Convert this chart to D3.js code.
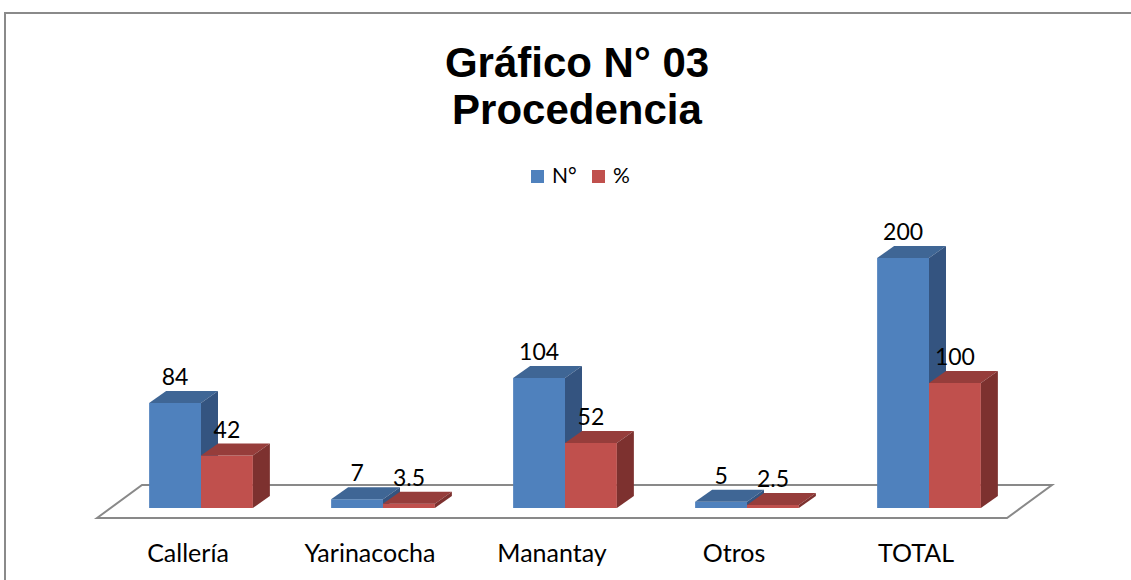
<!DOCTYPE html>
<html>
<head>
<meta charset="utf-8">
<script src="https://cdn.jsdelivr.net/npm/d3@7"></script>
<style>
  body { margin: 0; background: #fff; }
  svg { display: block; }
</style>
</head>
<body>
<script>
// data
var categories = ['Callería', 'Yarinacocha', 'Manantay', 'Otros', 'TOTAL'];
var seriesNames = ['N°', '%'];
var countValues = [84, 7, 104, 5, 200];
var pctValues = [42, 3.5, 52, 2.5, 100];
var labelText = [['84', '7', '104', '5', '200'], ['42', '3.5', '52', '2.5', '100']];

var colors = [
  { front: '#4f81bd', top: '#3f6695', side: '#345480' },
  { front: '#c0504d', top: '#963d3b', side: '#7d312f' }
];

var width = 1131, height = 580;
var depthX = 17, depthY = 12;   // 3d offset of the bar depth

var svg = d3.select('body').append('svg')
  .attr('width', width)
  .attr('height', height);

// outer frame (only top and left edges visible)
svg.append('path')
  .attr('d', 'M5,' + height + ' L5,13 L' + width + ',13')
  .attr('fill', 'none')
  .attr('stroke', '#8a8a8a')
  .attr('stroke-width', 2);

// title
var title = svg.append('text')
  .attr('text-anchor', 'middle')
  .attr('font-family', '"Liberation Sans", Arial, sans-serif')
  .attr('font-weight', 'bold')
  .attr('font-size', 42)
  .attr('fill', '#000');
title.append('tspan').attr('x', 577).attr('y', 77).text('Gráfico N° 03');
title.append('tspan').attr('x', 577).attr('y', 124).text('Procedencia');

// scales
var x0 = d3.scaleBand()
  .domain(categories)
  .range([110, 1020])
  .paddingInner(0.43)
  .paddingOuter(0.215);

var x1 = d3.scaleBand()
  .domain([0, 1])
  .range([0, x0.bandwidth()]);

var y = d3.scaleLinear()
  .domain([0, 200])
  .range([508, 258]);

// floor
var floorFront = 518, floorBack = 485;
svg.append('polygon')
  .attr('points', [[97, floorFront], [142, floorBack], [1052, floorBack], [1007, floorFront]].join(' '))
  .attr('fill', 'none')
  .attr('stroke', '#898989')
  .attr('stroke-width', 2);

// bars
var rows = [];
categories.forEach(function(c, i) {
  [countValues, pctValues].forEach(function(vals, s) {
    rows.push({ cat: c, s: s, v: vals[i], label: labelText[s][i] });
  });
});

var bars = svg.selectAll('g.bar').data(rows).enter()
  .append('g').attr('class', 'bar');

function geo(d) {
  var bx = x0(d.cat) + x1(d.s);
  var bw = x1.bandwidth();
  var top = y(d.v), bottom = y(0);
  return { x: bx, w: bw, top: top, bottom: bottom };
}

bars.append('rect')
  .attr('x', function(d) { return geo(d).x; })
  .attr('y', function(d) { return geo(d).top; })
  .attr('width', function(d) { return geo(d).w; })
  .attr('height', function(d) { var g = geo(d); return g.bottom - g.top; })
  .attr('fill', function(d) { return colors[d.s].front; });

bars.append('polygon')
  .attr('points', function(d) {
    var g = geo(d);
    return [[g.x, g.top], [g.x + depthX, g.top - depthY], [g.x + g.w + depthX, g.top - depthY], [g.x + g.w, g.top]].join(' ');
  })
  .attr('fill', function(d) { return colors[d.s].top; });

bars.append('polygon')
  .attr('points', function(d) {
    var g = geo(d);
    return [[g.x + g.w, g.top], [g.x + g.w + depthX, g.top - depthY], [g.x + g.w + depthX, g.bottom - depthY], [g.x + g.w, g.bottom]].join(' ');
  })
  .attr('fill', function(d) { return colors[d.s].side; });

// value labels
svg.selectAll('text.val').data(rows).enter()
  .append('text')
  .attr('class', 'val')
  .attr('x', function(d) { var g = geo(d); return g.x + g.w / 2; })
  .attr('y', function(d) { return geo(d).top - depthY - 6; })
  .attr('text-anchor', 'middle')
  .attr('font-family', 'Lato, "Open Sans", sans-serif')
  .attr('font-size', 23)
  .attr('fill', '#000')
  .text(function(d) { return d.label; });

// category labels
svg.selectAll('text.cat').data(categories).enter()
  .append('text')
  .attr('class', 'cat')
  .attr('x', function(d) { return x0(d) + x0.bandwidth() / 2 - 13; })
  .attr('y', 562)
  .attr('text-anchor', 'middle')
  .attr('font-family', 'Lato, "Open Sans", sans-serif')
  .attr('font-size', 25)
  .attr('fill', '#000')
  .text(function(d) { return d; });

// legend
var legendX = [531, 592];
var legend = svg.selectAll('g.legend').data(seriesNames).enter()
  .append('g').attr('class', 'legend')
  .attr('transform', function(d, i) { return 'translate(' + legendX[i] + ',170)'; });

legend.append('rect')
  .attr('width', 13)
  .attr('height', 13)
  .attr('fill', function(d, i) { return colors[i].front; });

legend.append('text')
  .attr('x', 21)
  .attr('y', 13)
  .attr('font-family', 'Lato, "Open Sans", sans-serif')
  .attr('font-size', 21)
  .attr('fill', '#000')
  .text(function(d) { return d; });
</script>
</body>
</html>
